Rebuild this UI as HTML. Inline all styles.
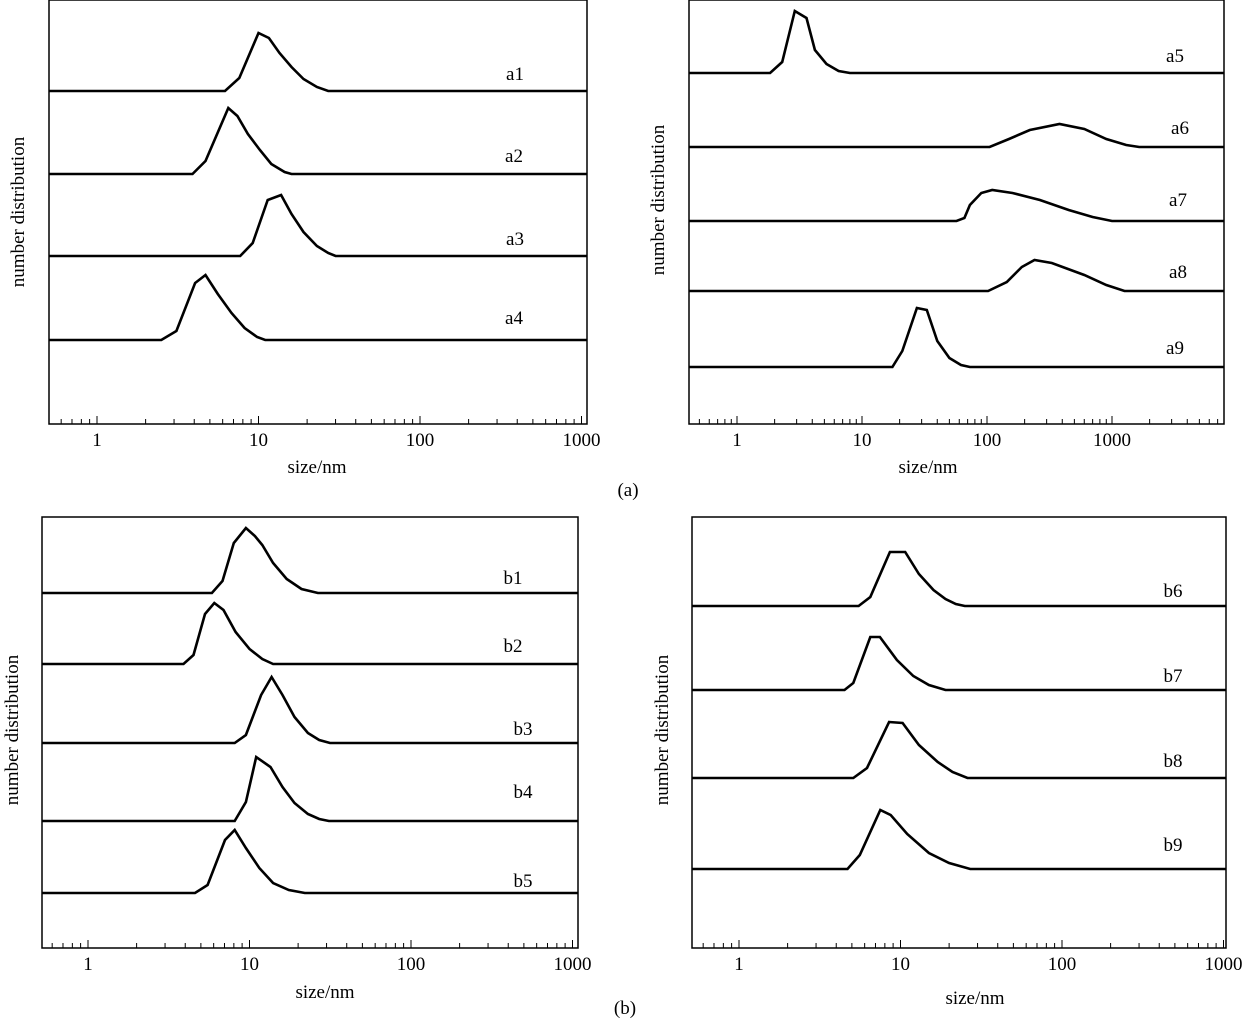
<!DOCTYPE html>
<html><head><meta charset="utf-8"><style>
html,body{margin:0;padding:0;background:#fff;}
svg{display:block;font-family:"Liberation Serif",serif;}
</style></head><body>
<svg id="fig" width="1246" height="1020" viewBox="0 0 1246 1020"></svg>
<script>
// Curve data: [size_nm, height_px_above_baseline]
const a1 = [[6.2,0],[7.6,13],[10,58],[11.6,53],[13.5,38],[16,24],[19,12],[23,4],[27,0]];
const a2 = [[3.9,0],[4.7,13],[6.5,66],[7.4,58],[8.6,40],[10.2,24],[12,10],[14.5,2],[16,0]];
const a3 = [[7.7,0],[9.2,13],[11.4,56],[13.8,61],[16,42],[19,24],[23,10],[27,3],[30,0]];
const a4 = [[2.5,0],[3.1,9],[4.05,57],[4.7,65],[5.6,46],[6.8,27],[8.2,12],[9.8,3],[11,0]];
const a5 = [[1.84,0],[2.3,11],[2.9,62],[3.6,55],[4.2,23],[5.2,9],[6.5,2],[8,0]];
const a6 = [[105,0],[150,8],[220,17],[380,23],[600,18],[900,8],[1300,2],[1650,0]];
const a7 = [[57,0],[66,3],[73,16],[90,28],[110,31],[160,28],[265,21],[450,11],[700,4],[1000,0]];
const a8 = [[102,0],[144,9],[190,24],[240,31],[330,28],[600,16],[900,6],[1260,0]];
const a9 = [[17.5,0],[21,16],[27.5,59],[33,57],[40,26],[50,9],[62,2],[73,0]];
const b1 = [[5.85,0],[6.8,12],[8,50],[9.5,65],[10.8,57],[12,48],[14,30],[17,14],[21,4],[26.5,0]];
const b2 = [[3.9,0],[4.5,9],[5.3,50],[6.05,61],[6.9,54],[8.2,32],[10,15],[12,5],[14,0]];
const b3 = [[8.1,0],[9.5,8],[11.8,48],[13.7,66],[16,48],[19,26],[23,10],[27,3],[31.5,0]];
const b4 = [[8.1,0],[9.5,19],[11,64],[13.5,54],[16,34],[19,18],[23,7],[27,2],[31,0]];
const b5 = [[4.6,0],[5.5,8],[7.05,53],[8.1,63],[9.5,45],[11.5,25],[14,10],[17.5,3],[22,0]];
const b6 = [[5.5,0],[6.5,9],[8.6,54],[10.7,54],[13,32],[16,16],[19,7],[22,2],[25,0]];
const b7 = [[4.5,0],[5.1,7],[6.5,53],[7.45,53],[9.5,30],[12,14],[15,5],[19,0]];
const b8 = [[5.1,0],[6.2,10],[8.5,56],[10.3,55],[13,33],[17,16],[21,6],[26,0]];
const b9 = [[4.7,0],[5.6,14],[7.5,59],[8.7,54],[11,35],[15,16],[20,6],[27,0]];
const tickLabels = ["1","10","100","1000"];
const tickValues = [1,10,100,1000];

const panels = [
 {id:"top-left", x0:49, x1:587, y0:0, y1:424, one:97, dec:161.5, maxDec:3,
  curves:[["a1",a1,91,515,74],["a2",a2,174,514,156],["a3",a3,256,515,239],["a4",a4,340,514,318]],
  ylab:[18,212], xlab:[317,467]},
 {id:"top-right", x0:689, x1:1224, y0:0, y1:424, one:737, dec:125, maxDec:3.9,
  curves:[["a5",a5,73,1175,56],["a6",a6,147,1180,128],["a7",a7,221,1178,200],["a8",a8,291,1178,272],["a9",a9,367,1175,348]],
  ylab:[658,200], xlab:[928,467]},
 {id:"bottom-left", x0:42, x1:578, y0:517, y1:948, one:88, dec:161.5, maxDec:3,
  curves:[["b1",b1,593,513,578],["b2",b2,664,513,646],["b3",b3,743,523,729],["b4",b4,821,523,792],["b5",b5,893,523,881]],
  ylab:[12,730], xlab:[325,992]},
 {id:"bottom-right", x0:692, x1:1226, y0:517, y1:948, one:739, dec:161.5, maxDec:3,
  curves:[["b6",b6,606,1173,591],["b7",b7,690,1173,676],["b8",b8,778,1173,761],["b9",b9,869,1173,845]],
  ylab:[662,730], xlab:[975,998]}
];
const NS="http://www.w3.org/2000/svg";
const svg=document.getElementById("fig");
function mk(tag,attrs,parent){const e=document.createElementNS(NS,tag);for(const k in attrs)e.setAttribute(k,attrs[k]);(parent||svg).appendChild(e);return e;}
panels.forEach(p=>{
  const g=mk("g",{});
  
  
  const xs=v=>p.one+Math.log10(v)*p.dec;
  const box=mk("rect",{x:p.x0,y:p.y0,width:p.x1-p.x0,height:p.y1-p.y0,fill:"none",stroke:"#000","stroke-width":1.5},g);
  
  
  for(let d=-1; d<=4; d++){
    for(let m=1;m<=9;m++){
      const v=m*Math.pow(10,d); const x=xs(v);
      if(x<=p.x0+2||x>=p.x1-1) continue;
      const t=mk("line",{x1:x,x2:x,y1:p.y1,y2:p.y1-(m===1?8:5),stroke:"#000","stroke-width":1},g);
      
      
    }
  }
  tickValues.forEach((v,i)=>{
    const t=mk("text",{x:xs(v),y:p.y1+22,"text-anchor":"middle","font-size":19},g);
    t.textContent=tickLabels[i];
    
    
  });
  const xl=mk("text",{x:p.xlab[0],y:p.xlab[1]+6,"text-anchor":"middle","font-size":19},g);
  xl.textContent="size/nm";
  
  
  const yl=mk("text",{x:0,y:0,"text-anchor":"middle","font-size":19,transform:`translate(${p.ylab[0]+6},${p.ylab[1]}) rotate(-90)`},g);
  yl.textContent="number distribution";
  
  
  p.curves.forEach(c=>{
    const [name,data,base,lx,ly]=c;
    let d=`M${p.x0},${base}`;
    data.forEach(pt=>{d+=` L${xs(pt[0]).toFixed(1)},${(base-pt[1]).toFixed(1)}`;});
    d+=` L${p.x1},${base}`;
    const path=mk("path",{d:d,fill:"none",stroke:"#000","stroke-width":2.6,"stroke-linejoin":"miter"},g);
    
    
    const lab=mk("text",{x:lx,y:ly+6,"text-anchor":"middle","font-size":19},g);
    lab.textContent=name;
    
    
  });
});
const pa=mk("text",{x:628,y:496,"text-anchor":"middle","font-size":19});
pa.textContent="(a)";


const pb=mk("text",{x:625,y:1014,"text-anchor":"middle","font-size":19});
pb.textContent="(b)";


</script>
</body></html>
